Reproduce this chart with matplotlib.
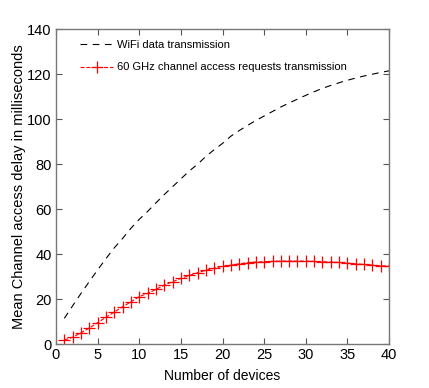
import matplotlib
matplotlib.use("Agg")
import matplotlib.pyplot as plt

# Mean channel access delay (ms) vs number of devices
devices = list(range(1, 41))
req_delay = [1.8, 3.0, 5.0, 7.1, 9.5, 11.9, 14.2, 16.6, 18.7, 21.1,
             22.5, 24.3, 26.2, 27.7, 29.2, 30.5, 31.7, 32.8, 33.7, 34.6,
             35.1, 35.7, 36.2, 36.5, 36.6, 36.8, 36.9, 36.9, 36.9, 36.9,
             36.8, 36.6, 36.5, 36.3, 36.0, 35.7, 35.4, 35.1, 34.8, 34.7]

wifi_delay = [11.4, 17.0, 22.5, 27.8, 33.0, 38.0, 42.8, 47.0, 51.5, 55.5,
              59.0, 62.8, 66.5, 70.0, 73.5, 77.0, 80.0, 83.5, 86.5, 89.3,
              92.5, 95.0, 97.3, 99.5, 101.5, 103.5, 105.5, 107.3, 109.0, 110.7,
              112.3, 113.8, 115.1, 116.3, 117.4, 118.4, 119.3, 120.1, 120.9, 121.6]

xticks = [0, 5, 10, 15, 20, 25, 30, 35, 40]
yticks = [0, 20, 40, 60, 80, 100, 120, 140]

font = ["Liberation Sans", "DejaVu Sans"]

fig = plt.figure(figsize=(4.29, 3.88), dpi=100)
ax = fig.add_axes([0.1305, 0.1134, 0.7765, 0.8106])

ax.plot(devices, wifi_delay, color="black", lw=0.8, dashes=(6, 5),
        label="WiFi data transmission")
ax.plot(devices, req_delay, color="red", lw=0.8, ls="--", marker="+",
        ms=8, mew=0.9, label="60 GHz channel access requests transmission")

ax.set_xlim(0, 40)
ax.set_ylim(0, 140)
ax.set_xticks(xticks)
ax.set_yticks(yticks)
ax.tick_params(direction="in", top=True, right=True, length=4, width=0.8,
               color="#555555", labelsize=10.5, pad=3)
for lab in ax.get_xticklabels() + ax.get_yticklabels():
    lab.set_family(font)
for sp in ax.spines.values():
    sp.set_color("#777777")
    sp.set_linewidth(1.0)

ax.set_xlabel("Number of devices", family=font, fontsize=10, labelpad=5)
ax.set_ylabel("Mean Channel access delay in milliseconds",
              family=font, fontsize=10.5, labelpad=1)

leg = ax.legend(loc="upper left", frameon=False, prop={"family": font, "size": 8},
                handlelength=3.0, handletextpad=0.35, borderaxespad=0,
                labelspacing=1.1, bbox_to_anchor=(0.059, 0.98))

fig.savefig("out.png", dpi=100)
